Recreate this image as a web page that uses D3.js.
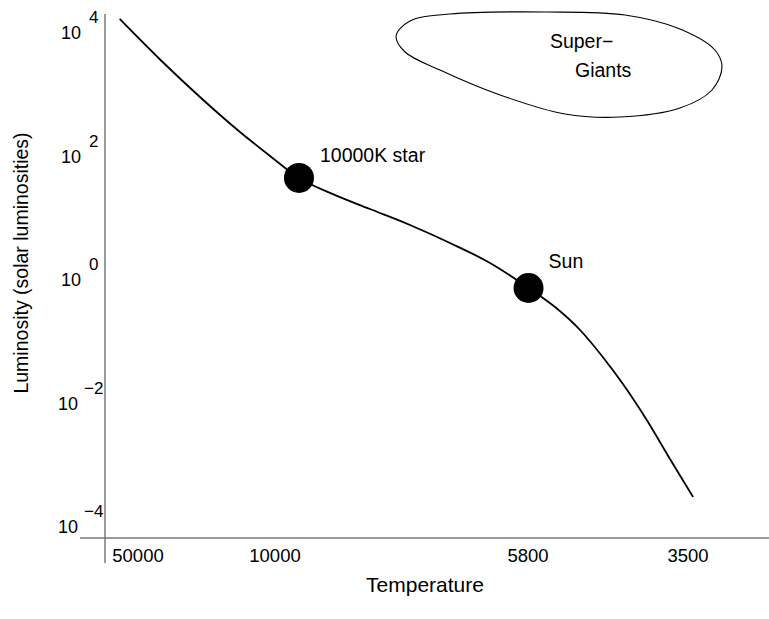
<!DOCTYPE html>
<html>
<head>
<meta charset="utf-8">
<script src="https://cdn.jsdelivr.net/npm/d3@7"></script>
<style>
  body { margin: 0; background: #fff; }
  text { font-family: "Liberation Sans", Arial, Helvetica, sans-serif; fill: #000; }
</style>
</head>
<body>
<svg id="chart" width="769" height="619"></svg>
<script>
// tick values
const tempTicks = [50000, 10000, 5800, 3500];
const lumExponents = [4, 2, 0, -2, -4];

// main sequence (temperature K, luminosity in suns)
const mainSeqTemp = [62000, 38600, 24150, 15090, 10600, 9497, 8884, 8151, 7478, 6860, 6294, 5790,
                     5325, 4921, 4592, 4298, 3971, 3705, 3444];
const mainSeqLum  = [16860, 3723, 919, 249, 102, 44.9, 25.7, 14.1, 7.78, 3.97, 1.885, 0.742,
                     0.3654, 0.155, 0.0588, 0.0207, 0.00502, 0.001263, 0.000306];

// marked stars
const starNames = ["10000K star", "Sun"];
const starTemp = [9497, 5790];
const starLum = [44.9, 0.742];

// supergiant region outline
const giantTemp = [7705, 7478, 6860, 5463, 4271, 3590, 3215, 3144, 3245, 3590, 4339, 5160, 6160, 7010, 7558];
const giantLum  = [8940, 15640, 20310, 21880, 19560, 11610, 5305, 2814, 1194, 610, 436, 488, 991, 2516, 4924];
const giantLabels = ["Super\u2212", "Giants"];
const giantLabelTemp = [5412, 5000];
const giantLabelLum = [6890, 2334];

const svg = d3.select("#chart");

const x = d3.scaleLog().domain(tempTicks).range([138, 275, 528, 688]);
const y = d3.scaleLog().domain([1e-4, 1e4]).range([527, 33]);

const axisColor = "#7a7a7a";

// axes lines
svg.append("line")
  .attr("x1", 105).attr("x2", 105)
  .attr("y1", 14).attr("y2", 563)
  .attr("stroke", axisColor).attr("stroke-width", 1.5);

svg.append("line")
  .attr("x1", 80).attr("x2", 769)
  .attr("y1", 538).attr("y2", 538)
  .attr("stroke", axisColor).attr("stroke-width", 1.5);

// y tick labels: 10 with superscript exponent
const yLab = svg.append("g").selectAll("g")
  .data(lumExponents)
  .enter()
  .append("g");

yLab.append("text")
  .attr("x", d => d < 0 ? 78 : 81)
  .attr("y", d => y(Math.pow(10, d)) + 6)
  .attr("text-anchor", "end")
  .attr("font-size", "18px")
  .text("10");

yLab.append("text")
  .attr("x", d => d < 0 ? 84 : 89)
  .attr("y", d => y(Math.pow(10, d)) - 10)
  .attr("font-size", "17px")
  .text(d => d < 0 ? "\u2212" + Math.abs(d) : d);

// x tick labels
svg.append("g").selectAll("text")
  .data(tempTicks)
  .enter()
  .append("text")
  .attr("x", d => x(d))
  .attr("y", 562)
  .attr("text-anchor", "middle")
  .attr("font-size", "18.5px")
  .text(d => d);

// axis titles
svg.append("text")
  .attr("x", 425).attr("y", 592)
  .attr("text-anchor", "middle")
  .attr("font-size", "21px")
  .text("Temperature");

svg.append("text")
  .attr("transform", "translate(28,263) rotate(-90)")
  .attr("text-anchor", "middle")
  .attr("font-size", "19.5px")
  .text("Luminosity (solar luminosities)");

// supergiant outline
const giantPts = giantTemp.map((t, i) => [x(t), y(giantLum[i])]);
svg.append("path")
  .attr("d", d3.line().curve(d3.curveCatmullRomClosed.alpha(0.5))(giantPts))
  .attr("fill", "none")
  .attr("stroke", "#000")
  .attr("stroke-width", 1.1);

svg.append("g").selectAll("text")
  .data(giantLabels)
  .enter()
  .append("text")
  .attr("x", (d, i) => x(giantLabelTemp[i]))
  .attr("y", (d, i) => y(giantLabelLum[i]))
  .attr("dominant-baseline", "middle")
  .attr("font-size", "19.5px")
  .text(d => d);

// main sequence curve
const seqPts = mainSeqTemp.map((t, i) => [x(t), y(mainSeqLum[i])]);
svg.append("path")
  .attr("d", d3.line().curve(d3.curveMonotoneX)(seqPts))
  .attr("fill", "none")
  .attr("stroke", "#000")
  .attr("stroke-width", 1.8);

// stars
const stars = svg.append("g").selectAll("g")
  .data(starNames)
  .enter()
  .append("g");

stars.append("circle")
  .attr("cx", (d, i) => x(starTemp[i]))
  .attr("cy", (d, i) => y(starLum[i]))
  .attr("r", 15)
  .attr("fill", "#000");

stars.append("text")
  .attr("x", (d, i) => x(starTemp[i]) + (i === 0 ? 21 : 20))
  .attr("y", (d, i) => y(starLum[i]) + (i === 0 ? -21 : -25))
  .attr("dominant-baseline", "middle")
  .attr("font-size", "19.5px")
  .text(d => d);
</script>
</body>
</html>
